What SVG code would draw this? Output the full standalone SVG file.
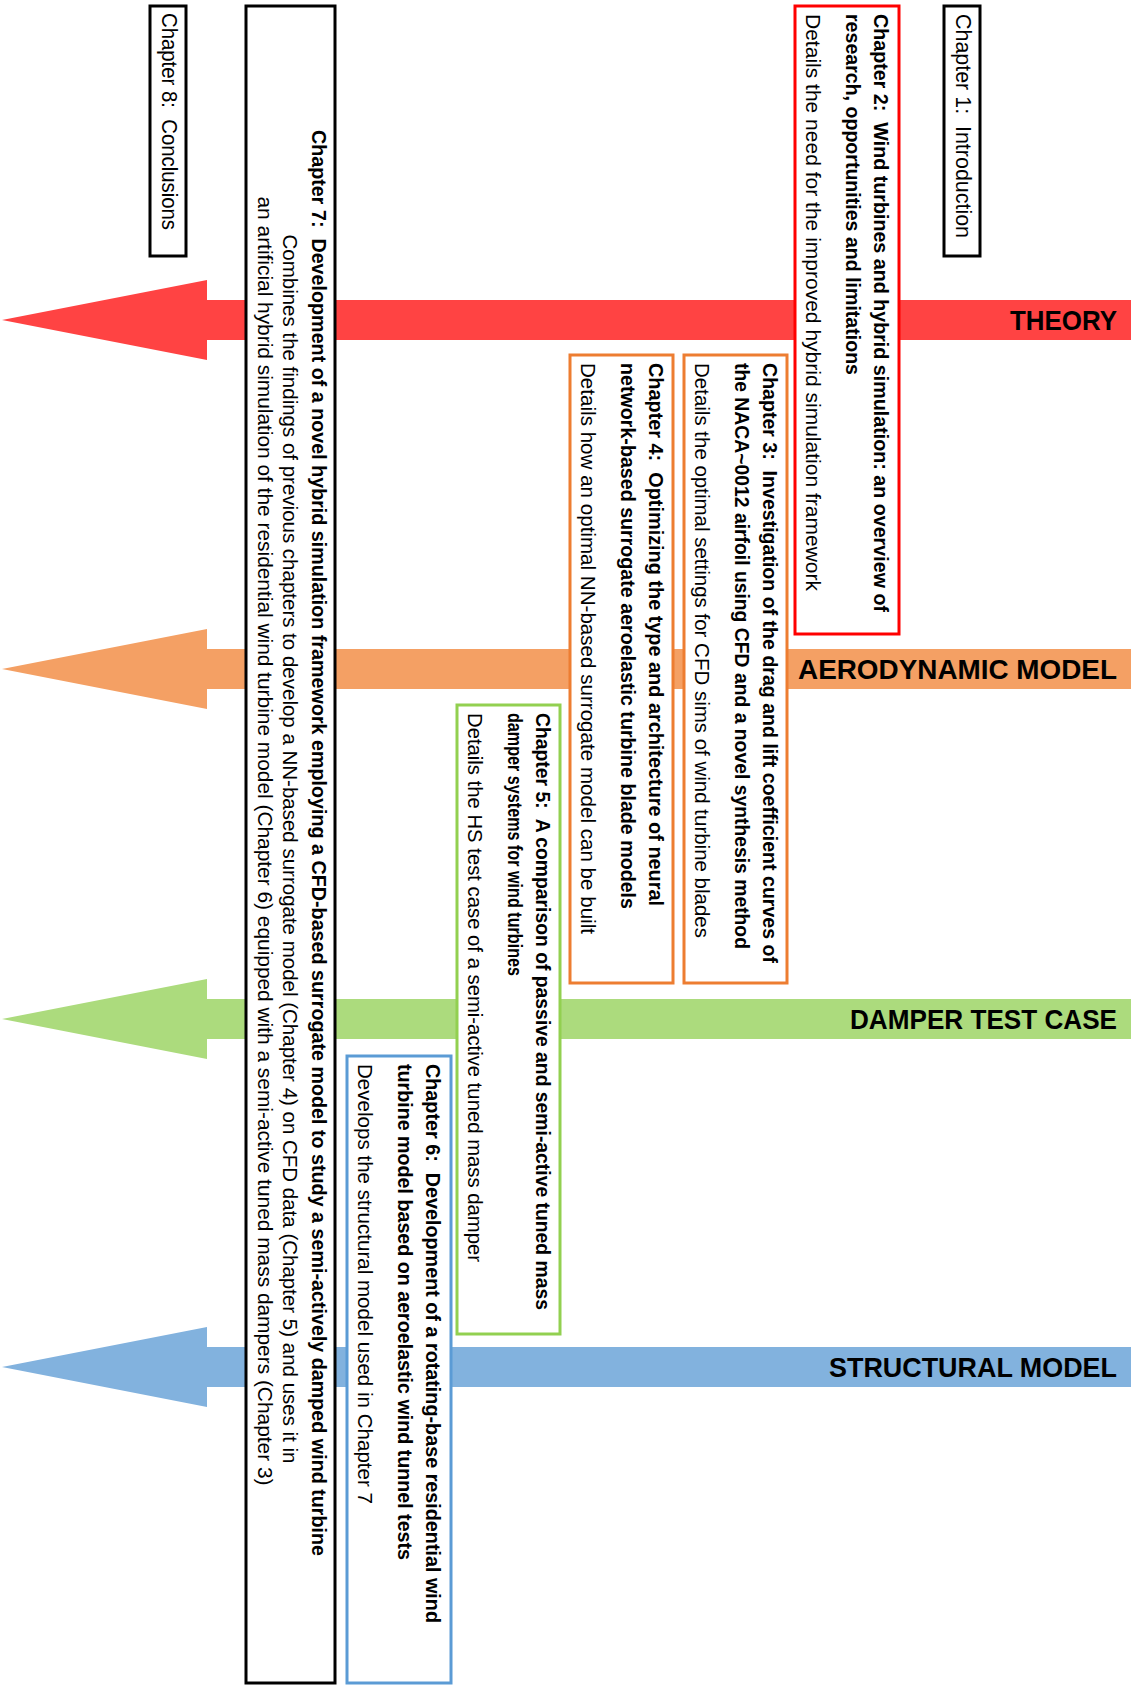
<svg xmlns="http://www.w3.org/2000/svg" width="1143" height="1690" viewBox="0 0 1143 1690">
<style>
text{font-family:"Liberation Sans",Arial,sans-serif;fill:#000;white-space:pre}
.b{font-size:20px;font-weight:bold}
.r{font-size:20px}
.c{font-size:22px}
.h{font-size:28px;font-weight:bold}
.box{fill:#fff;stroke-width:3}
.blk{stroke:#000}
.red{stroke:#FF0000}
.org{stroke:#ED7D31}
.grn{stroke:#92D050}
.blu{stroke:#5B9BD5}
</style>
<rect width="1143" height="1690" fill="#fff"/>
<g id="connectors">
<g id="theory">
<polygon points="1131,300 207,300 207,280 2,320 207,360 207,340 1131,340" fill="#FF4343"/>
<text class="h" x="1117" y="330" text-anchor="end" textLength="107" lengthAdjust="spacingAndGlyphs">THEORY</text>
</g>
<g id="aero">
<polygon points="1131,649 207,649 207,629 2,669 207,709 207,689 1131,689" fill="#F4A064"/>
<text class="h" x="1117" y="679" text-anchor="end" textLength="319" lengthAdjust="spacingAndGlyphs">AERODYNAMIC MODEL</text>
</g>
<g id="damper">
<polygon points="1131,999 207,999 207,979 2,1019 207,1059 207,1039 1131,1039" fill="#ACDB7D"/>
<text class="h" x="1117" y="1029" text-anchor="end" textLength="267" lengthAdjust="spacingAndGlyphs">DAMPER TEST CASE</text>
</g>
<g id="structural">
<polygon points="1131,1347 207,1347 207,1327 2,1367 207,1407 207,1387 1131,1387" fill="#82B2DE"/>
<text class="h" x="1117" y="1377" text-anchor="end" textLength="288" lengthAdjust="spacingAndGlyphs">STRUCTURAL MODEL</text>
</g>
</g>
<g id="ch1">
<rect class="box blk" x="944" y="6" width="36" height="250" stroke-width="3.5"/>
<text class="c" x="956" y="14" transform="rotate(90 956 14)" textLength="224" lengthAdjust="spacingAndGlyphs">Chapter 1:  Introduction</text>
</g>
<g id="ch8">
<rect class="box blk" x="150" y="6" width="36" height="250" stroke-width="3.5"/>
<text class="c" x="162" y="13" transform="rotate(90 162 13)" textLength="217" lengthAdjust="spacingAndGlyphs">Chapter 8:  Conclusions</text>
</g>
<g id="ch2">
<rect class="box red" x="795" y="6" width="104" height="628"/>
<text class="b" x="874" y="14" transform="rotate(90 874 14)" textLength="598" lengthAdjust="spacingAndGlyphs">Chapter 2:  Wind turbines and hybrid simulation: an overview of</text>
<text class="b" x="846" y="14" transform="rotate(90 846 14)" textLength="361" lengthAdjust="spacingAndGlyphs">research, opportunities and limitations</text>
<text class="r" x="806" y="14" transform="rotate(90 806 14)" textLength="577" lengthAdjust="spacingAndGlyphs">Details the need for the improved hybrid simulation framework</text>
</g>
<g id="ch3">
<rect class="box org" x="684" y="355" width="103" height="628"/>
<text class="b" x="763" y="363" transform="rotate(90 763 363)" textLength="600" lengthAdjust="spacingAndGlyphs">Chapter 3:  Investigation of the drag and lift coefficient curves of</text>
<text class="b" x="735" y="363" transform="rotate(90 735 363)" textLength="586" lengthAdjust="spacingAndGlyphs">the NACA~0012 airfoil using CFD and a novel synthesis method</text>
<text class="r" x="695" y="363" transform="rotate(90 695 363)" textLength="575" lengthAdjust="spacingAndGlyphs">Details the optimal settings for CFD sims of wind turbine blades</text>
</g>
<g id="ch4">
<rect class="box org" x="570" y="355" width="103" height="628"/>
<text class="b" x="649" y="363" transform="rotate(90 649 363)" textLength="543" lengthAdjust="spacingAndGlyphs">Chapter 4:  Optimizing the type and architecture of neural</text>
<text class="b" x="621" y="363" transform="rotate(90 621 363)" textLength="546" lengthAdjust="spacingAndGlyphs">network-based surrogate aeroelastic turbine blade models</text>
<text class="r" x="581" y="363" transform="rotate(90 581 363)" textLength="571" lengthAdjust="spacingAndGlyphs">Details how an optimal NN-based surrogate model can be built</text>
</g>
<g id="ch5">
<rect class="box grn" x="457" y="705" width="103" height="629"/>
<text class="b" x="536" y="713" transform="rotate(90 536 713)" textLength="597" lengthAdjust="spacingAndGlyphs">Chapter 5:  A comparison of passive and semi-active tuned mass</text>
<text class="b" x="508" y="713" transform="rotate(90 508 713)" textLength="263" lengthAdjust="spacingAndGlyphs">damper systems for wind turbines</text>
<text class="r" x="468" y="713" transform="rotate(90 468 713)" textLength="549" lengthAdjust="spacingAndGlyphs">Details the HS test case of a semi-active tuned mass damper</text>
</g>
<g id="ch6">
<rect class="box blu" x="347" y="1056" width="104" height="627"/>
<text class="b" x="426" y="1064" transform="rotate(90 426 1064)" textLength="559" lengthAdjust="spacingAndGlyphs">Chapter 6:  Development of a rotating-base residential wind</text>
<text class="b" x="398" y="1064" transform="rotate(90 398 1064)" textLength="496" lengthAdjust="spacingAndGlyphs">turbine model based on aeroelastic wind tunnel tests</text>
<text class="r" x="358" y="1064" transform="rotate(90 358 1064)" textLength="440" lengthAdjust="spacingAndGlyphs">Develops the structural model used in Chapter 7</text>
</g>
<g id="ch7">
<rect class="box blk" x="246" y="6" width="89" height="1677" stroke-width="4"/>
<text class="b" x="312" y="843" text-anchor="middle" transform="rotate(90 312 843)" textLength="1426" lengthAdjust="spacingAndGlyphs">Chapter 7:  Development of a novel hybrid simulation framework employing a CFD-based surrogate model to study a semi-actively damped wind turbine</text>
<text class="r" x="283" y="849" text-anchor="middle" transform="rotate(90 283 849)" textLength="1229" lengthAdjust="spacingAndGlyphs">Combines the findings of previous chapters to develop a NN-based surrogate model (Chapter 4) on CFD data (Chapter 5) and uses it in</text>
<text class="r" x="258" y="841" text-anchor="middle" transform="rotate(90 258 841)" textLength="1289" lengthAdjust="spacingAndGlyphs">an artificial hybrid simulation of the residential wind turbine model (Chapter 6) equipped with a semi-active tuned mass dampers (Chapter 3)</text>
</g>
</svg>
